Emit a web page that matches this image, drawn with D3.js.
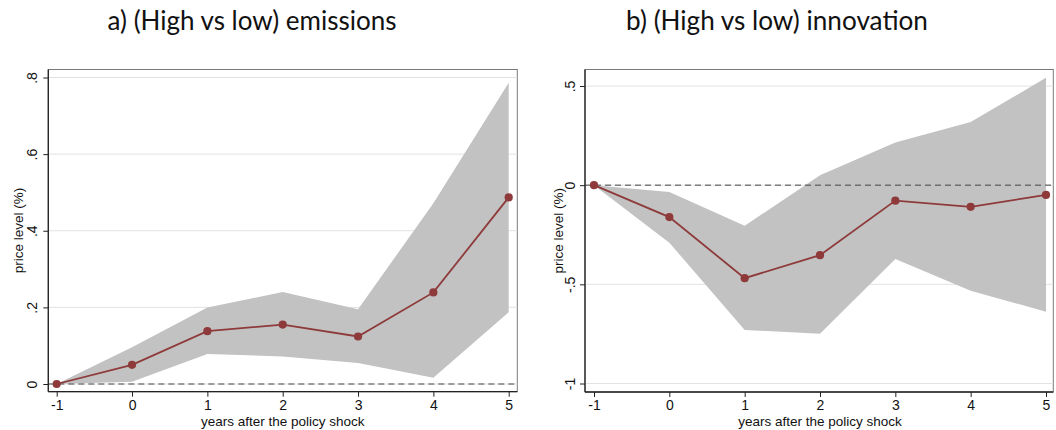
<!DOCTYPE html>
<html>
<head>
<meta charset="utf-8">
<script src="https://cdn.jsdelivr.net/npm/d3@7"></script>
<style>
  html, body { margin: 0; padding: 0; background: #fff; }
  svg { display: block; }
</style>
</head>
<body>
<svg id="chart" width="1056" height="430"></svg>
<script>
// ---- data ----
const years = [-1, 0, 1, 2, 3, 4, 5];
const xTickLabels = ["-1", "0", "1", "2", "3", "4", "5"];

// Panel a) (High vs low) emissions
const emisTitle = "a) (High vs low) emissions";
const emisEstimate = [0, 0.050, 0.138, 0.155, 0.124, 0.239, 0.487];
const emisUpper    = [0, 0.096, 0.200, 0.240, 0.195, 0.472, 0.786];
const emisLower    = [0, 0.006, 0.078, 0.072, 0.055, 0.016, 0.187];
const emisYTicks = [0, 0.2, 0.4, 0.6, 0.8];
const emisYTickLabels = ["0", ".2", ".4", ".6", ".8"];

// Panel b) (High vs low) innovation
const innoTitle = "b) (High vs low) innovation";
const innoEstimate = [0, -0.161, -0.469, -0.353, -0.078, -0.109, -0.049];
const innoUpper    = [0, -0.035, -0.205, 0.050, 0.215, 0.319, 0.541];
const innoLower    = [0, -0.290, -0.730, -0.749, -0.372, -0.532, -0.638];
const innoYTicks = [-1, -0.5, 0, 0.5];
const innoYTickLabels = ["-1", "-.5", "0", ".5"];

const xAxisTitle = "years after the policy shock";
const yAxisTitle = "price level (%)";

// ---- drawing ----
const svg = d3.select("#chart");
const LINE = "#8e3a3a";
const BAND = "#c2c2c2";
const FONT = '"Liberation Sans", Arial, sans-serif';

function panel(cfg) {
  const x = d3.scaleLinear().domain([-1, 5]).range(cfg.xRange);
  const y = d3.scaleLinear().domain(cfg.yDomain).range(cfg.yRange);
  const f = cfg.frame; // {l, r, t, b}
  const g = svg.append("g");

  g.append("rect").attr("x", f.l).attr("y", f.t)
    .attr("width", f.r - f.l).attr("height", f.b - f.t)
    .attr("fill", "#fff").attr("stroke", "#7a7a7a").attr("stroke-width", 1);

  g.selectAll("line.grid").data(cfg.yTicks).enter().append("line")
    .attr("class", "grid")
    .attr("x1", f.l).attr("x2", f.r)
    .attr("y1", d => y(d)).attr("y2", d => y(d))
    .attr("stroke", "#e2e2e2").attr("stroke-width", 1);

  const data = years.map((yr, i) => ({x: yr, est: cfg.est[i], lo: cfg.lo[i], hi: cfg.hi[i]}));

  g.append("path").datum(data)
    .attr("d", d3.area().x(d => x(d.x)).y0(d => y(d.lo)).y1(d => y(d.hi)))
    .attr("fill", BAND);

  g.append("line")
    .attr("x1", f.l).attr("x2", f.r)
    .attr("y1", y(0)).attr("y2", y(0))
    .attr("stroke", "#444").attr("stroke-width", 1)
    .attr("stroke-dasharray", "6,4");

  g.append("path").datum(data)
    .attr("d", d3.line().x(d => x(d.x)).y(d => y(d.est)))
    .attr("fill", "none").attr("stroke", LINE).attr("stroke-width", 1.8);

  g.selectAll("circle.pt").data(data).enter().append("circle")
    .attr("class", "pt")
    .attr("cx", d => x(d.x)).attr("cy", d => y(d.est)).attr("r", 4.1)
    .attr("fill", LINE);

  const xAxis = d3.axisBottom(x).tickValues(years)
    .tickFormat((d, i) => xTickLabels[i]).tickSize(5).tickSizeOuter(0).tickPadding(3);
  const gx = g.append("g").attr("transform", `translate(0,${f.b})`).call(xAxis);
  gx.select(".domain").remove();
  gx.selectAll(".tick line").attr("stroke", "#222");
  gx.selectAll(".tick text").attr("font-size", 14).attr("fill", "#111")
    .attr("font-family", FONT).attr("dy", "0.72em");

  const yAxis = d3.axisLeft(y).tickValues(cfg.yTicks)
    .tickFormat((d, i) => cfg.yTickLabels[i]).tickSize(5).tickSizeOuter(0);
  const gy = g.append("g").attr("transform", `translate(${f.l},0)`).call(yAxis);
  gy.select(".domain").remove();
  gy.selectAll(".tick line").attr("stroke", "#222");
  gy.selectAll(".tick text")
    .attr("font-size", 14).attr("fill", "#111").attr("font-family", FONT)
    .attr("x", null)
    .attr("text-anchor", "middle")
    .attr("transform", `translate(${cfg.yLabelX - f.l},0) rotate(-90)`)
    .attr("dy", "0.35em");

  g.append("line").attr("x1", f.l).attr("x2", f.l).attr("y1", f.t).attr("y2", f.b)
    .attr("stroke", "#222").attr("stroke-width", 1.3);
  g.append("line").attr("x1", f.l).attr("x2", f.r).attr("y1", f.b).attr("y2", f.b)
    .attr("stroke", "#222").attr("stroke-width", 1.3);

  g.append("text")
    .attr("x", (cfg.xRange[0] + cfg.xRange[1]) / 2).attr("y", 426)
    .attr("text-anchor", "middle").attr("font-family", FONT).attr("font-size", 13.5)
    .attr("fill", "#111").text(xAxisTitle);
  g.append("text")
    .attr("transform", `translate(${cfg.yTitleX},${(f.t + f.b) / 2}) rotate(-90)`)
    .attr("text-anchor", "middle").attr("dy", "0.35em")
    .attr("font-family", FONT).attr("font-size", 13.5)
    .attr("fill", "#111").text(yAxisTitle);

  const t = svg.append("text")
    .attr("x", cfg.titleX).attr("y", 30)
    .attr("text-anchor", "middle").attr("font-family", "Lato, 'Open Sans', sans-serif")
    .attr("font-size", 24).attr("fill", "#111").text(cfg.title);
  const w = t.node().getComputedTextLength();
  if (w > 0) t.attr("font-size", 24 * cfg.titleWidth / w);
}

panel({
  title: emisTitle, titleX: 252, titleWidth: 289,
  est: emisEstimate, lo: emisLower, hi: emisUpper,
  xRange: [56.7, 508.7], yDomain: [0, 0.8], yRange: [384, 77.5],
  frame: {l: 48.3, r: 517.3, t: 69.5, b: 391.7},
  yTicks: emisYTicks, yTickLabels: emisYTickLabels,
  yLabelX: 32, yTitleX: 18.5
});

panel({
  title: innoTitle, titleX: 777, titleWidth: 302,
  est: innoEstimate, lo: innoLower, hi: innoUpper,
  xRange: [594, 1046], yDomain: [-1, 0.5], yRange: [383.5, 86],
  frame: {l: 585, r: 1053.3, t: 69.5, b: 392},
  yTicks: innoYTicks, yTickLabels: innoYTickLabels,
  yLabelX: 570, yTitleX: 558
});
</script>
</body>
</html>
